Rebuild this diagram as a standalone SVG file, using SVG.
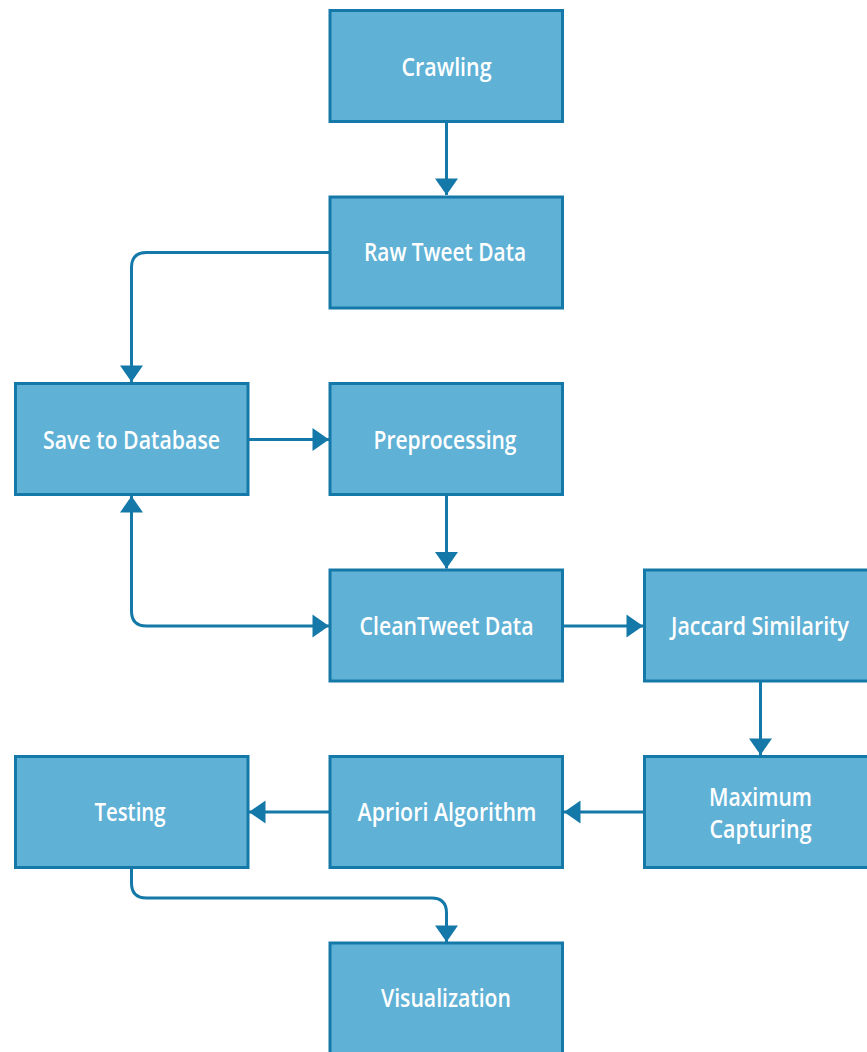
<svg xmlns="http://www.w3.org/2000/svg" width="867" height="1052" viewBox="0 0 867 1052">
<style>
.box{fill:#60b1d6;stroke:#1479a8;stroke-width:3}
.lbl{fill:#ffffff;font-family:"Open Sans","Noto Sans","Liberation Sans",sans-serif;font-weight:600;font-size:25px;text-anchor:middle}
.con{fill:none;stroke:#1479a8;stroke-width:3}
</style>
<defs>
<marker id="ah" markerUnits="userSpaceOnUse" markerWidth="18" markerHeight="24" viewBox="0 0 18 24" refX="17" refY="12" orient="auto-start-reverse">
<path d="M0.5,0.5 L17,12 L0.5,23.5 z" fill="#1479a8"/>
</marker>
</defs>
<rect width="867" height="1052" fill="#ffffff"/>
<g id="connectors">
<path class="con" d="M446.5,122 L446.5,195" marker-end="url(#ah)"/>
<path class="con" d="M330,252.5 L146.5,252.5 Q131.5,252.5 131.5,267.5 L131.5,382" marker-end="url(#ah)"/>
<path class="con" d="M248,439.5 L329,439.5" marker-end="url(#ah)"/>
<path class="con" d="M446.5,495 L446.5,568.5" marker-end="url(#ah)"/>
<path class="con" d="M131.5,496 L131.5,611 Q131.5,626 146.5,626 L329,626" marker-start="url(#ah)" marker-end="url(#ah)"/>
<path class="con" d="M563,626 L643,626" marker-end="url(#ah)"/>
<path class="con" d="M760.5,682 L760.5,755" marker-end="url(#ah)"/>
<path class="con" d="M644,812 L564,812" marker-end="url(#ah)"/>
<path class="con" d="M330,812 L249,812" marker-end="url(#ah)"/>
<path class="con" d="M131.5,868 L131.5,883 Q131.5,898 146.5,898 L431.5,898 Q446.5,898 446.5,913 L446.5,942" marker-end="url(#ah)"/>
</g>
<g id="n-crawling"><rect class="box" x="330" y="10.5" width="232.5" height="111"/><text class="lbl" x="446.5" y="76" textLength="90" lengthAdjust="spacingAndGlyphs">Crawling</text></g>
<g id="n-raw"><rect class="box" x="330" y="197" width="232.5" height="111"/><text class="lbl" x="445" y="261" textLength="162" lengthAdjust="spacingAndGlyphs">Raw Tweet Data</text></g>
<g id="n-save"><rect class="box" x="15.5" y="383.5" width="232.5" height="111"/><text class="lbl" x="131.5" y="448.5" textLength="177" lengthAdjust="spacingAndGlyphs">Save to Database</text></g>
<g id="n-pre"><rect class="box" x="330" y="383.5" width="232.5" height="111"/><text class="lbl" x="445" y="448.5" textLength="143" lengthAdjust="spacingAndGlyphs">Preprocessing</text></g>
<g id="n-clean"><rect class="box" x="330" y="570" width="232.5" height="111"/><text class="lbl" x="446.5" y="634.5" textLength="174" lengthAdjust="spacingAndGlyphs">CleanTweet Data</text></g>
<g id="n-jaccard"><rect class="box" x="644.5" y="570" width="232.5" height="111"/><text class="lbl" x="760" y="634.5" textLength="178" lengthAdjust="spacingAndGlyphs">Jaccard Similarity</text></g>
<g id="n-max"><rect class="box" x="644.5" y="756.5" width="232.5" height="111"/><text class="lbl" x="760.5" y="805.5" textLength="103" lengthAdjust="spacingAndGlyphs">Maximum</text><text class="lbl" x="760.5" y="838" textLength="102" lengthAdjust="spacingAndGlyphs">Capturing</text></g>
<g id="n-apriori"><rect class="box" x="330" y="756.5" width="232.5" height="111"/><text class="lbl" x="447" y="821" textLength="179" lengthAdjust="spacingAndGlyphs">Apriori Algorithm</text></g>
<g id="n-testing"><rect class="box" x="15.5" y="756.5" width="232.5" height="111"/><text class="lbl" x="130" y="821" textLength="71" lengthAdjust="spacingAndGlyphs">Testing</text></g>
<g id="n-vis"><rect class="box" x="330" y="943" width="232.5" height="111"/><text class="lbl" x="446" y="1007" textLength="130" lengthAdjust="spacingAndGlyphs">Visualization</text></g>
</svg>
